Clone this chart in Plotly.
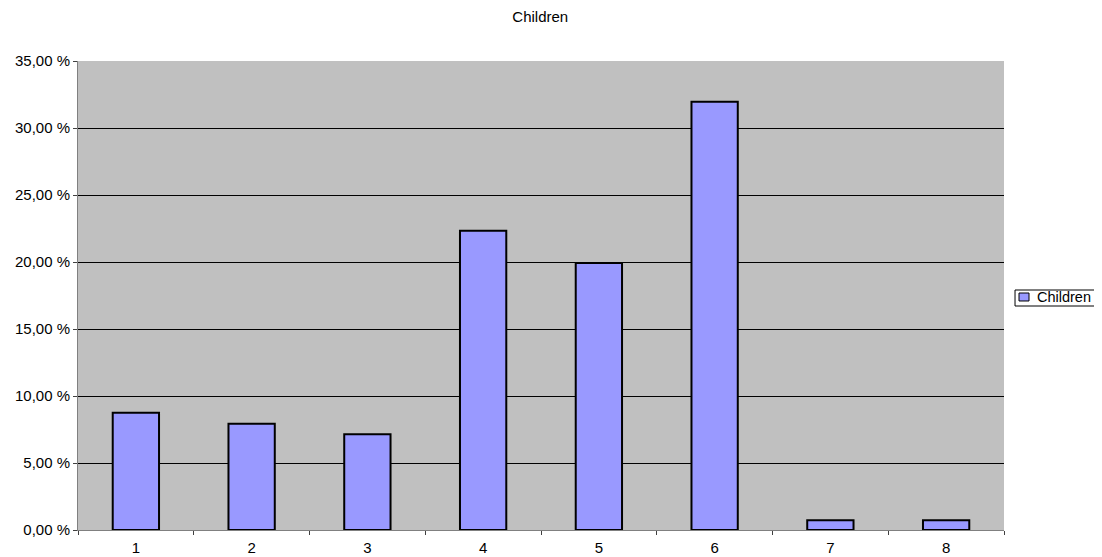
import plotly.graph_objects as go

categories = ["1", "2", "3", "4", "5", "6", "7", "8"]
values = [8.75, 7.93, 7.14, 22.34, 19.93, 31.96, 0.72, 0.72]
series_name = "Children"
y_tickvals = [0, 5, 10, 15, 20, 25, 30, 35]
y_ticktext = ["0,00 %", "5,00 %", "10,00 %", "15,00 %", "20,00 %", "25,00 %", "30,00 %", "35,00 %"]

BAR_COLOR = "#9999FF"

fig = go.Figure()
fig.add_trace(go.Bar(
    x=categories, y=values, name=series_name,
    marker=dict(color=BAR_COLOR, line=dict(color="black", width=2)),
    width=0.4, showlegend=False,
))

# Compact Excel-style legend box (to the right of the plot area)
fig.add_shape(type="rect", xref="paper", yref="paper",
              x0=1.0119, x1=1.0983, y0=0.4776, y1=0.5117,
              line=dict(color="black", width=1), fillcolor="white")
fig.add_shape(type="rect", xref="paper", yref="paper",
              x0=1.0162, x1=1.0270, y0=0.4883, y1=0.5053,
              line=dict(color="black", width=1), fillcolor=BAR_COLOR)
fig.add_annotation(text=series_name, xref="paper", yref="paper",
                   x=1.0335, y=0.4968, xanchor="left", yanchor="middle",
                   showarrow=False, font=dict(size=14.5))

fig.update_layout(
    width=1102, height=557,
    margin=dict(l=70, r=106, t=53, b=35, autoexpand=False),
    paper_bgcolor="white", plot_bgcolor="#C0C0C0",
    font=dict(family="Liberation Sans, Arial, sans-serif", size=15, color="black"),
    title=dict(text="Children", x=0.483, xanchor="center", yref="container", y=0.984,
               yanchor="middle", font=dict(size=15)),
    showlegend=False,
)
fig.update_xaxes(type="category", tickson="boundaries", ticks="outside", ticklen=4,
                 tickcolor="#404040", showline=True, linecolor="#808080", linewidth=1,
                 showgrid=False, ticklabelstandoff=4, automargin=False)
fig.update_yaxes(range=[0, 35], tickvals=y_tickvals, ticktext=y_ticktext,
                 ticks="outside", ticklen=4, tickcolor="#404040",
                 showgrid=True, gridcolor="black", gridwidth=1,
                 showline=True, linecolor="#808080", linewidth=1, zeroline=False,
                 automargin=False)

fig.write_html("out.html")
